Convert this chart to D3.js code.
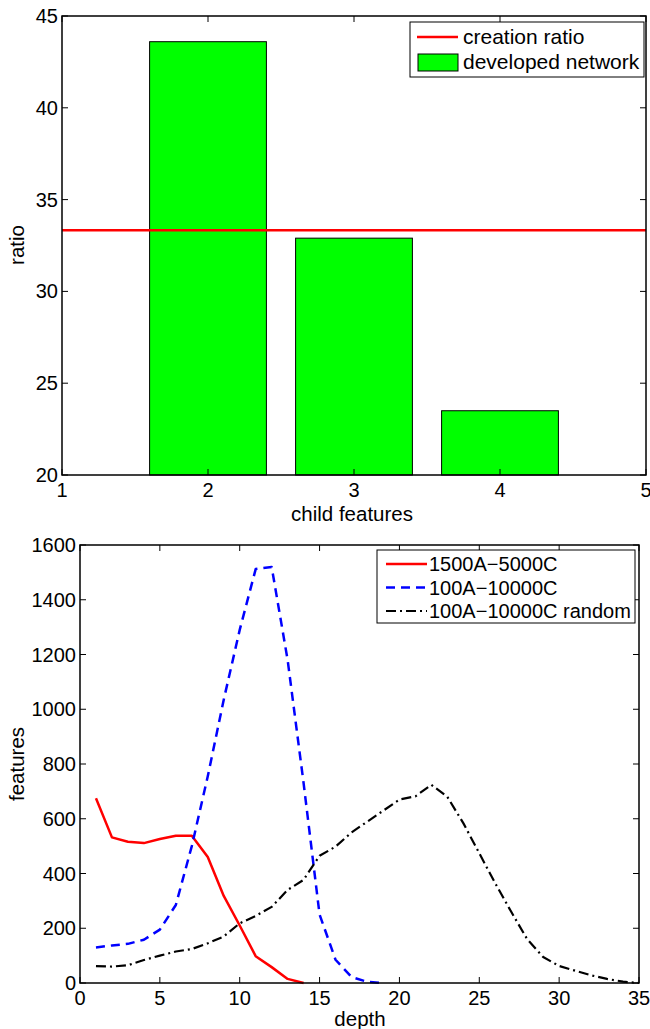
<!DOCTYPE html>
<html>
<head>
<title>Child features and depth</title>
<script src="https://cdn.jsdelivr.net/npm/d3@7"></script>
<style>
  body { margin: 0; background: #fff; }
  text { font-family: "Liberation Sans", Arial, sans-serif; fill: #000; }
</style>
</head>
<body>
<svg width="650" height="1029" id="mainsvg"></svg>
<script>
// top chart data
const childFeatures = [2, 3, 4];
const ratioValues = [43.6, 32.9, 23.5];
const creationRatio = 33.33;

// bottom chart data
const depth = d3.range(1, 36);
const red1500 = [675, 532, 516, 511, 526, 538, 538, 460, 318, 210, 98, 58, 15, 0];
const blue100 = [130, 137, 143, 158, 195, 285, 500, 755, 1035, 1290, 1512, 1520, 1180, 730, 250, 85, 22, 4, 0];
const blackRandom = [62, 60, 65, 84, 100, 115, 124, 145, 170, 218, 245, 278, 340, 377, 465, 498, 550, 590, 630, 670, 682, 724, 680, 584, 474, 364, 260, 160, 95, 62, 45, 28, 15, 5, 0];

const svg = d3.select('#mainsvg');
const FS = 20;

function box(g, x, y) {
    const [x0, x1] = x.range();
    const [y0, y1] = y.range();
    g.append('rect').attr('x', x0).attr('y', y1).attr('width', x1 - x0).attr('height', y0 - y1)
        .attr('fill', 'none').attr('stroke', '#000').attr('stroke-width', 1.5);
}

function axes(g, x, y, xticks, yticks) {
    const [x0, x1] = x.range();
    const [y0, y1] = y.range();
    const tl = 6;
    // inward ticks on all four sides
    g.selectAll('.xt').data(xticks).join('path').attr('class', 'xt')
        .attr('d', d => `M${x(d)},${y0}v${-tl}M${x(d)},${y1}v${tl}`)
        .attr('stroke', '#000').attr('stroke-width', 1);
    g.selectAll('.yt').data(yticks).join('path').attr('class', 'yt')
        .attr('d', d => `M${x0},${y(d)}h${tl}M${x1},${y(d)}h${-tl}`)
        .attr('stroke', '#000').attr('stroke-width', 1);
    g.selectAll('.xl').data(xticks).join('text').attr('class', 'xl')
        .attr('x', x).attr('y', y0 + 22).attr('text-anchor', 'middle')
        .attr('font-size', FS).text(d => d);
    g.selectAll('.yl').data(yticks).join('text').attr('class', 'yl')
        .attr('x', x0 - 4).attr('y', y).attr('dy', '0.35em').attr('text-anchor', 'end')
        .attr('font-size', FS).text(d => d);
}

// ---------- top chart ----------
const xTop = d3.scaleLinear().domain([1, 5]).range([62, 646]);
const yTop = d3.scaleLinear().domain([20, 45]).range([475, 16]);
const gTop = svg.append('g');

gTop.selectAll('.bar').data(childFeatures).join('rect').attr('class', 'bar')
    .attr('x', d => xTop(d - 0.4)).attr('width', xTop(1.8) - xTop(1))
    .attr('y', (d, i) => yTop(ratioValues[i]))
    .attr('height', (d, i) => yTop(20) - yTop(ratioValues[i]))
    .attr('fill', '#00ff00').attr('stroke', '#000').attr('stroke-width', 1);

gTop.append('line').attr('x1', xTop(1)).attr('x2', xTop(5))
    .attr('y1', yTop(creationRatio)).attr('y2', yTop(creationRatio))
    .attr('stroke', '#ff0000').attr('stroke-width', 2.5);

box(gTop, xTop, yTop);
axes(gTop, xTop, yTop, [1, 2, 3, 4, 5], [20, 25, 30, 35, 40, 45]);

gTop.append('text').attr('x', 352).attr('y', 521).attr('text-anchor', 'middle')
    .attr('font-size', 20.5).text('child features');
gTop.append('text').attr('transform', 'translate(24,245) rotate(-90)').attr('text-anchor', 'middle')
    .attr('font-size', 20.5).text('ratio');

// legend top
const lt = gTop.append('g');
lt.append('rect').attr('x', 410).attr('y', 22).attr('width', 234).attr('height', 55)
    .attr('fill', '#fff').attr('stroke', '#000').attr('stroke-width', 1);
lt.append('line').attr('x1', 417).attr('x2', 458).attr('y1', 37).attr('y2', 37)
    .attr('stroke', '#ff0000').attr('stroke-width', 2.5);
lt.append('rect').attr('x', 418).attr('y', 54).attr('width', 40).attr('height', 17)
    .attr('fill', '#00ff00').attr('stroke', '#000').attr('stroke-width', 1);
lt.append('text').attr('x', 463).attr('y', 44).attr('font-size', 21).text('creation ratio');
lt.append('text').attr('x', 463).attr('y', 69).attr('font-size', 21).text('developed network');

// ---------- bottom chart ----------
const xBot = d3.scaleLinear().domain([0, 35]).range([80, 639]);
const yBot = d3.scaleLinear().domain([0, 1600]).range([983, 545]);
const gBot = svg.append('g');

const series = [
    { name: '1500A\u22125000C', values: red1500, color: '#ff0000', dash: null, w: 2.5 },
    { name: '100A\u221210000C', values: blue100, color: '#0000ff', dash: '9,6', w: 2.5 },
    { name: '100A\u221210000C random', values: blackRandom, color: '#000', dash: '10,4,2,4', w: 2.2 }
];

const line = d3.line().x((d, i) => xBot(depth[i])).y(d => yBot(d));

gBot.selectAll('.series').data(series).join('path').attr('class', 'series')
    .attr('d', d => line(d.values)).attr('fill', 'none')
    .attr('stroke', d => d.color).attr('stroke-width', d => d.w)
    .attr('stroke-dasharray', d => d.dash)
    .attr('stroke-linejoin', 'round');

box(gBot, xBot, yBot);
axes(gBot, xBot, yBot, d3.range(0, 36, 5), d3.range(0, 1601, 200));

gBot.append('text').attr('x', 360).attr('y', 1026).attr('text-anchor', 'middle')
    .attr('font-size', 20.5).text('depth');
gBot.append('text').attr('transform', 'translate(24,764) rotate(-90)').attr('text-anchor', 'middle')
    .attr('font-size', 20.5).text('features');

// legend bottom
const lb = gBot.append('g');
lb.append('rect').attr('x', 377).attr('y', 550).attr('width', 258).attr('height', 73)
    .attr('fill', '#fff').attr('stroke', '#000').attr('stroke-width', 1);
lb.selectAll('.ll').data(series).join('line').attr('class', 'll')
    .attr('x1', 386).attr('x2', 427)
    .attr('y1', (d, i) => 564 + i * 23.5).attr('y2', (d, i) => 564 + i * 23.5)
    .attr('stroke', d => d.color).attr('stroke-width', d => d.w)
    .attr('stroke-dasharray', d => d.dash);
lb.selectAll('.lt').data(series).join('text').attr('class', 'lt')
    .attr('x', 429).attr('y', (d, i) => 571 + i * 23.5)
    .attr('font-size', 20).text(d => d.name);
</script>
</body>
</html>
